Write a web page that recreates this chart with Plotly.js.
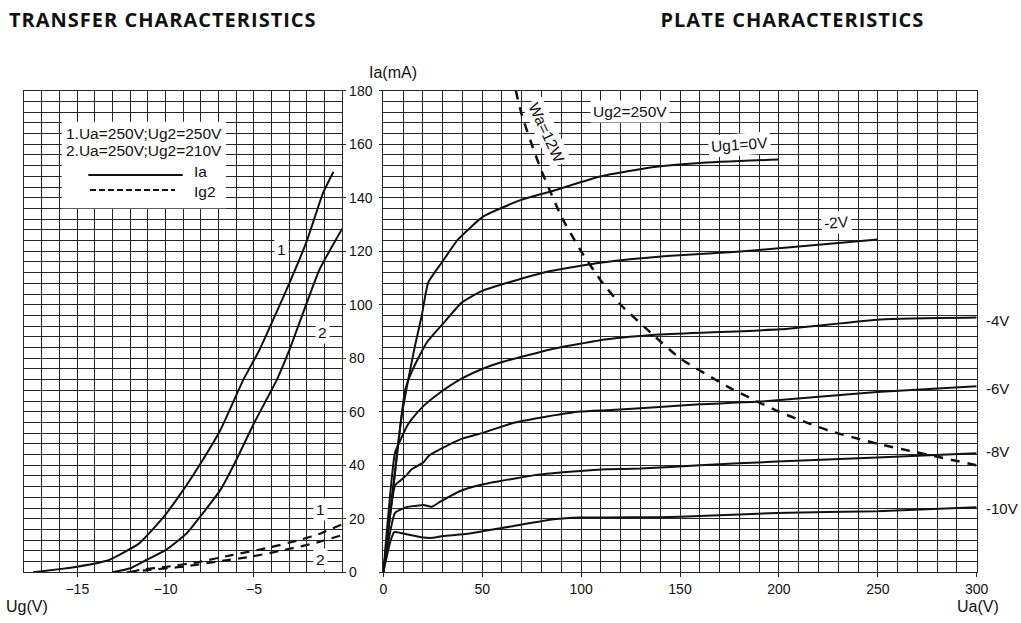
<!DOCTYPE html>
<html>
<head>
<meta charset="utf-8">
<script src="https://cdn.plot.ly/plotly-3.0.1.min.js"></script>
<style>
  html, body { margin: 0; padding: 0; background: #fff; }
  #chart { width: 1021px; height: 623px; }
  /* panel headings are set a little wider */
  #chart g.annotation[data-index="0"] text,
  #chart g.annotation[data-index="1"] text { letter-spacing: 1px; }
</style>
</head>
<body>
<div id="chart"></div>
<script>
// ---- Transfer characteristics: Ia and Ig2 versus grid voltage Ug ----
// Curve 1: Ua=250V, Ug2=250V   Curve 2: Ua=250V, Ug2=210V
const ugIa1 = [-17.5, -15, -13.2, -11.5, -10.1, -9.0, -7.9, -6.9, -5.6, -4.7, -3.0, -2.0, -1.1, -0.5];
const ia1   = [0, 2.1, 4.6, 10.8, 20.8, 30.8, 42.0, 53.2, 72, 83, 108, 124, 141.6, 149.7];
const ugIa2 = [-13.0, -12.0, -11.1, -10.0, -8.8, -7.9, -6.9, -6.0, -5.0, -3.7, -3.0, -1.3, 0];
const ia2   = [0, 1.5, 4.6, 8.3, 14.6, 22.0, 30.8, 42.0, 55.7, 72, 83, 113, 128.5];
const ugIg1 = [-12.0, -11.45, -9.9, -8.0, -6.2, -4.3, -2.4, -1.2, 0];
const ig1   = [0, 0.9, 2.1, 4.0, 6.5, 9.0, 12.1, 14.6, 18.0];
const ugIg2 = [-12.2, -10.9, -9.0, -7.1, -5.2, -3.3, -1.45, 0];
const ig2   = [0, 0.9, 2.1, 4.0, 5.8, 8.3, 11.1, 13.9];

// ---- Plate characteristics: Ia versus Ua at Ug2=250V ----
const uaG0  = [0, 5, 9, 12.6, 16, 19.4, 22.7, 29.5, 37.8, 50.6, 69, 86, 110, 137, 160, 200];
const iaG0  = [0, 32, 57, 72, 84.6, 95.8, 108.3, 115.7, 124.4, 133, 139, 142.6, 148, 151.5, 153, 154.3];
const uaG2  = [0, 5, 11, 15, 21.9, 31, 39.6, 49.7, 63.2, 84.5, 109.7, 143.4, 177.1, 200, 250];
const iaG2  = [0, 31, 68, 76, 85.8, 93.6, 100.8, 105.1, 108.3, 112.6, 115.7, 118.2, 119.7, 121.1, 124.4];
const uaG4  = [0, 5.9, 9, 12, 14.3, 20.4, 28.8, 38.9, 49.7, 59.2, 84.5, 113, 140, 200.7, 251.3, 300];
const iaG4  = [0, 44.7, 50, 54.7, 57.2, 62.2, 67.2, 72.1, 75.9, 78.4, 83.3, 87.1, 88.9, 90.8, 94.5, 95.2];
const uaG6  = [0, 6, 9, 12, 14.3, 20.2, 22.9, 28.8, 38.9, 50.7, 65.9, 79.3, 99.6, 113, 130, 160, 190.6, 249.6, 300];
const iaG6  = [0, 32.6, 34.5, 36.5, 38.5, 41.0, 43.5, 46, 49.7, 52.2, 55.9, 57.8, 60.1, 60.6, 61.3, 62.8, 63.8, 67.4, 69.5];
const uaG8  = [0, 6, 12, 16, 20.4, 24.5, 28.8, 38.9, 50.7, 65.9, 79.3, 99.6, 113, 130, 160, 199, 249.6, 300];
const iaG8  = [0, 22.3, 24.4, 24.8, 25.2, 24.5, 26.4, 30.4, 32.9, 35.0, 36.6, 37.9, 38.5, 38.8, 40.0, 41.4, 42.9, 44.5];
const uaG10 = [0, 3.4, 5.5, 7, 11.8, 20.2, 25, 30.3, 40.4, 50.7, 65.9, 86.1, 99.6, 113, 140, 160, 199, 249.6, 300];
const iaG10 = [0, 11.1, 15.0, 15.0, 14.2, 13.0, 12.9, 13.6, 14.2, 15.4, 17.3, 19.8, 20.5, 20.5, 20.6, 21.0, 22.2, 22.8, 24.3];
// Maximum plate dissipation line, Wa=12W
const uaWa  = [67, 70, 75, 80, 90, 100, 110, 120, 137.5, 150, 175, 200, 225, 250, 275, 300];
const iaWa  = [180, 171, 160, 150, 133, 120, 109, 100, 88, 80, 69, 60, 53, 48, 44, 40];

// Grid-voltage labels at the right-hand end of the plate curves
const plateLabels = ['-4V', '-6V', '-8V', '-10V'];
const plateLabelIa = [94.3, 68.8, 45.1, 23.7];

const INK = '#111';
const GRID = '#262626';
const FONT = 'Liberation Sans, Arial, sans-serif';
const W = 1021, H = 623;
const px = v => v / W;
const py = v => 1 - v / H;

function curve(x, y, xa, ya, dash, width) {
  return {
    x: x, y: y, xaxis: xa, yaxis: ya, type: 'scatter', mode: 'lines',
    hoverinfo: 'skip', showlegend: false,
    line: { color: INK, width: width || 2, dash: dash || 'solid', shape: 'spline', smoothing: 0.45 }
  };
}

const traces = [
  curve(ugIa1, ia1, 'x', 'y'),
  curve(ugIa2, ia2, 'x', 'y'),
  curve(ugIg1, ig1, 'x', 'y', '9px,7px', 2.2),
  curve(ugIg2, ig2, 'x', 'y', '9px,7px', 2.2),
  curve(uaG0, iaG0, 'x2', 'y2'),
  curve(uaG2, iaG2, 'x2', 'y2'),
  curve(uaG4, iaG4, 'x2', 'y2'),
  curve(uaG6, iaG6, 'x2', 'y2'),
  curve(uaG8, iaG8, 'x2', 'y2'),
  curve(uaG10, iaG10, 'x2', 'y2'),
  curve(uaWa, iaWa, 'x2', 'y2', '9px,8px', 2.5)
];

const tickFont = { family: FONT, size: 14, color: INK };
const frame = { showline: true, mirror: true, linecolor: GRID, linewidth: 1, zeroline: false,
                showgrid: true, gridcolor: GRID, gridwidth: 1, fixedrange: true };

const yDomain = [py(572.3), py(90.7)];

const layout = {
  width: W, height: H,
  margin: { l: 0, r: 0, t: 0, b: 0 },
  paper_bgcolor: '#fff', plot_bgcolor: '#fff',
  showlegend: false,
  xaxis: Object.assign({}, frame, {
    domain: [px(24.3), px(342.3)], range: [-18, 0], anchor: 'y',
    tickmode: 'array', tickvals: [-15, -10, -5], ticks: 'outside', ticklen: 4, tickcolor: GRID,
    tickfont: tickFont,
    minor: { tickmode: 'linear', tick0: 0, dtick: 1, showgrid: true, gridcolor: GRID, gridwidth: 1, ticks: '' }
  }),
  yaxis: Object.assign({}, frame, {
    domain: yDomain, range: [0, 180], anchor: 'x', side: 'right',
    tickmode: 'linear', tick0: 0, dtick: 20, ticks: 'outside', ticklen: 3, tickcolor: GRID,
    tickfont: tickFont,
    minor: { tickmode: 'linear', tick0: 0, dtick: 4, showgrid: true, gridcolor: GRID, gridwidth: 1, ticks: '' }
  }),
  xaxis2: Object.assign({}, frame, {
    domain: [px(383.3), px(976.7)], range: [0, 300], anchor: 'y2',
    tickmode: 'linear', tick0: 0, dtick: 50, ticks: 'outside', ticklen: 4, tickcolor: GRID,
    tickfont: tickFont,
    minor: { tickmode: 'linear', tick0: 0, dtick: 10, showgrid: true, gridcolor: GRID, gridwidth: 1, ticks: '' }
  }),
  yaxis2: Object.assign({}, frame, {
    domain: yDomain, range: [0, 180], anchor: 'x2',
    tickmode: 'linear', tick0: 0, dtick: 20, ticks: 'outside', ticklen: 3, tickcolor: GRID,
    showticklabels: false,
    minor: { tickmode: 'linear', tick0: 0, dtick: 4, showgrid: true, gridcolor: GRID, gridwidth: 1, ticks: '' }
  }),
  shapes: [
    // key box for the transfer characteristics
    { type: 'rect', xref: 'paper', yref: 'paper', layer: 'above',
      x0: px(61.7), x1: px(226), y0: py(208.3), y1: py(121.7),
      fillcolor: '#fff', line: { width: 0 } },
    { type: 'line', xref: 'paper', yref: 'paper', layer: 'above',
      x0: px(88.3), x1: px(182.7), y0: py(175), y1: py(175),
      line: { color: INK, width: 2 } },
    { type: 'line', xref: 'paper', yref: 'paper', layer: 'above',
      x0: px(90), x1: px(175), y0: py(190), y1: py(190),
      line: { color: INK, width: 2, dash: '6px,3px' } }
  ],
  annotations: []
};

const ann = layout.annotations;
const labelFont = { family: FONT, size: 15.5, color: INK };

function paperText(text, x, y, opts) {
  ann.push(Object.assign({
    text: text, xref: 'paper', yref: 'paper', x: px(x), y: py(y),
    xanchor: 'center', yanchor: 'middle', showarrow: false, font: labelFont
  }, opts || {}));
}
function dataText(text, xa, ya, x, y, opts) {
  ann.push(Object.assign({
    text: text, xref: xa, yref: ya, x: x, y: y,
    xanchor: 'center', yanchor: 'middle', showarrow: false, font: labelFont,
    bgcolor: '#fff', borderpad: 2
  }, opts || {}));
}

// Panel headings (annotations 0 and 1)
const headFont = { family: 'Open Sans, sans-serif', size: 20, color: INK, weight: 700 };
paperText('TRANSFER CHARACTERISTICS', 163, 20, { font: headFont });
paperText('PLATE CHARACTERISTICS', 792, 20, { font: headFont });

// Axis captions
const capFont = { family: FONT, size: 16, color: INK };
paperText('Ia(mA)', 393, 72, { font: capFont });
paperText('Ug(V)', 27, 606, { font: capFont });
paperText('Ua(V)', 978, 606, { font: capFont });

// Key text
paperText('1.Ua=250V;Ug2=250V', 144, 134);
paperText('2.Ua=250V;Ug2=210V', 144, 151);
paperText('Ia', 191.5, 171, { xanchor: 'left' });
paperText('Ig2', 191.5, 192, { xanchor: 'left' });

// Transfer curve numbers
dataText('1', 'x', 'y', -3.45, 120.8);
dataText('2', 'x', 'y', -1.1, 89.8);
dataText('1', 'x', 'y', -1.24, 23.4);
dataText('2', 'x', 'y', -1.21, 4.6);

// Plate characteristic labels
dataText('Wa=12W', 'x2', 'y2', 82.3, 164.2, { textangle: 65 });
dataText('Ug2=250V', 'x2', 'y2', 124.7, 172.4);
dataText('Ug1=0V', 'x2', 'y2', 180.3, 159.8, { textangle: -4 });
dataText('-2V', 'x2', 'y2', 228.9, 130.6, { textangle: -4 });
plateLabels.forEach((t, i) => {
  dataText(t, 'x2', 'y2', 300, plateLabelIa[i],
           { xanchor: 'left', xshift: 8, bgcolor: 'rgba(0,0,0,0)', borderpad: 0,
             font: { family: FONT, size: 15, color: INK } });
});

Plotly.newPlot('chart', traces, layout, { staticPlot: true, displayModeBar: false });
</script>
</body>
</html>
